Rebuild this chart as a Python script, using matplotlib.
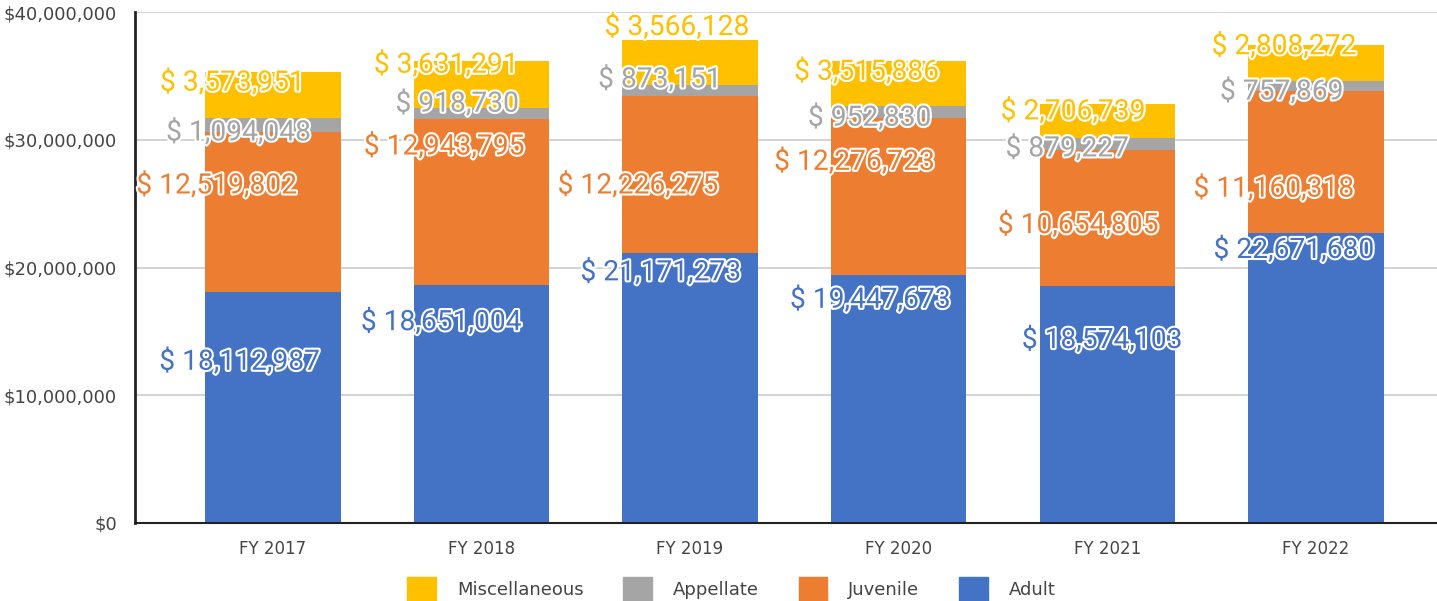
import matplotlib

matplotlib.use("Agg")

import matplotlib.pyplot as plt
import matplotlib.patheffects as pe
from matplotlib.patches import Patch
from matplotlib.ticker import FuncFormatter
import numpy as np

years = ["FY 2017", "FY 2018", "FY 2019", "FY 2020", "FY 2021", "FY 2022"]
adult = [18112987, 18651004, 21171273, 19447673, 18574103, 22671680]
juvenile = [12519802, 12943795, 12226275, 12276723, 10654805, 11160318]
appellate = [1094048, 918730, 873151, 952830, 879227, 757869]
misc = [3573951, 3631291, 3566128, 3515886, 2706739, 2808272]

series = [
    ("Adult", adult, "#4472C4"),
    ("Juvenile", juvenile, "#ED7D31"),
    ("Appellate", appellate, "#A5A5A5"),
    ("Miscellaneous", misc, "#FFC000"),
]

# where the data labels sit (hand-placed in the original), millions / px shift
label_y = {
    "Adult": [12.6, 15.7, 19.6, 17.45, 14.3, 21.35],
    "Juvenile": [26.4, 29.45, 26.4, 28.25, 23.3, 26.15],
    "Appellate": [30.55, 32.8, 34.7, 31.7, 29.3, 33.75],
    "Miscellaneous": [34.45, 35.85, 38.8, 35.3, 32.2, 37.3],
}
label_dx = {
    "Adult": [-33, -40, -29, -28, -5, -22],
    "Juvenile": [-56, -37, -52, -44, -29, -42],
    "Appellate": [-34, -24, -30, -29, -40, -34],
    "Miscellaneous": [-40, -35, -13, -32, -34, -32],
}

fig = plt.figure(figsize=(14.37, 6.01), dpi=100)
ax = fig.add_axes([135 / 1437, 1 - 523 / 601, 1 - 135 / 1437, (523 - 12) / 601])

x = np.arange(len(years))
bottom = np.zeros(len(years))
for name, vals, color in series:
    ax.bar(x, vals, bottom=bottom, width=0.65, color=color, zorder=2)
    bottom += np.array(vals)

outline = [pe.withStroke(linewidth=3, foreground="white")]
for name, vals, color in series:
    for i, v in enumerate(vals):
        ax.text(
            x[i] + label_dx[name][i] / 208.5,
            label_y[name][i] * 1e6,
            f"$ {v:,}",
            color=color,
            fontsize=20.3,
            family="Roboto",
            ha="center",
            va="center",
            path_effects=outline,
            zorder=5,
        )

ax.set_xlim(-0.66, 5.58)
ax.set_ylim(0, 40e6)
ax.set_yticks([0, 10e6, 20e6, 30e6, 40e6])
ax.yaxis.set_major_formatter(FuncFormatter(lambda v, p: f"${int(v):,}"))
ax.set_xticks(x)
ax.set_xticklabels(years)
ax.tick_params(axis="both", length=0, labelsize=12, labelcolor="#444444")
ax.tick_params(axis="y", pad=13, labelsize=13)
ax.tick_params(axis="x", pad=12)
ax.grid(axis="y", color="#cccccc", linewidth=1.2, zorder=0)
ax.set_axisbelow(True)
for side in ["top", "right"]:
    ax.spines[side].set_visible(False)
ax.spines["left"].set_linewidth(2)
ax.spines["bottom"].set_linewidth(1.5)
ax.spines["left"].set_color("#222222")
ax.spines["bottom"].set_color("#222222")

handles = [Patch(color=c, label=n) for n, _, c in series[::-1]]
fig.legend(
    handles=handles,
    loc="center",
    bbox_to_anchor=(0.509, 1 - 589 / 601),
    ncol=4,
    frameon=False,
    fontsize=13,
    handlelength=1.6,
    handleheight=1.6,
    columnspacing=2.2,
    handletextpad=1.15,
    labelcolor="#444444",
)

fig.savefig("out.png", dpi=100)
